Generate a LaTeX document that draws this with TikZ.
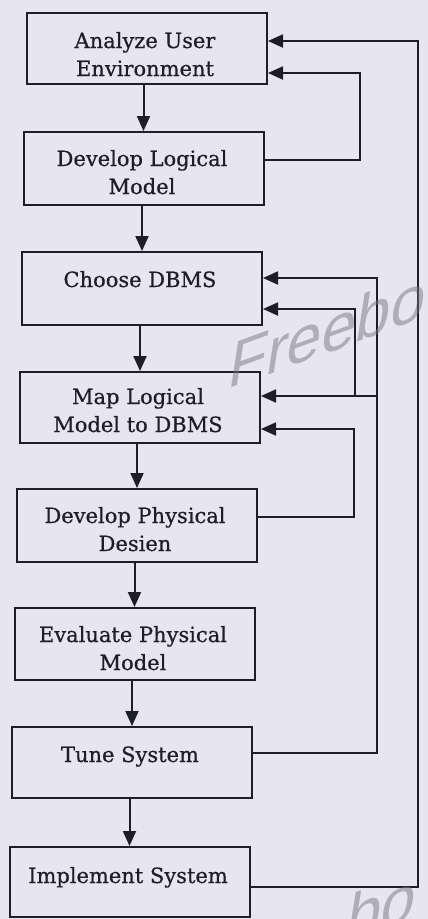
\documentclass[tikz,border=0pt]{standalone}
\usepackage{fontspec}
\setmainfont{DejaVu Serif}[FakeBold=0.6]
\newfontfamily\wmfont{Liberation Sans}
\usetikzlibrary{arrows.meta}
\definecolor{paper}{RGB}{231,229,240}
\definecolor{ink}{RGB}{30,30,42}
\definecolor{wmark}{RGB}{120,118,126}
\begin{document}
\begin{tikzpicture}[x=1pt,y=-1pt,
  stage/.style={draw=ink, line width=2pt, fill=paper, minimum width=240pt,
                minimum height=72pt, inner sep=0pt},
  caption/.style={anchor=base, align=center, text=ink, inner sep=0pt,
                  font={\fontsize{21}{28}\selectfont}},
  flow/.style={draw=ink, line width=2pt, -{Triangle[length=15pt,width=13pt]}},
  wm/.style={text=wmark, opacity=0.5, anchor=base west,
             rotate=20, xslant=0.55, yscale=0.9,
             inner sep=0pt, font={\wmfont\fontsize{66}{66}\selectfont}}]
\useasboundingbox[fill=paper] (0,0) rectangle (428,919);

% process stages
\node[stage, minimum height=71pt] (b1) at (147,48.5) {};
\node[stage, minimum height=73pt] (b2) at (143.5,168.5) {};
\node[stage, minimum height=73pt] (b3) at (142,288.5) {};
\node[stage, minimum height=71pt] (b4) at (140,407.5) {};
\node[stage, minimum height=73pt] (b5) at (137,525.5) {};
\node[stage, minimum height=72pt] (b6) at (134.5,644) {};
\node[stage, minimum height=71pt] (b7) at (132,762.5) {};
\node[stage, minimum height=70pt] (b8) at (129.5,882) {};

% stage captions (base anchor = baseline of the last line)
\node[caption] (t1) at (145,76) {Analyze User\\Environment};
\node[caption] (t2) at (142,194) {Develop Logical\\Model};
\node[caption] (t3) at (140,287) {Choose DBMS};
\node[caption] (t4) at (138,432) {Map Logical\\Model to DBMS};
\node[caption] (t5) at (135,551) {Develop Physical\\Desien};
\node[caption] (t6) at (133,670) {Evaluate Physical\\Model};
\node[caption] (t7) at (130,762) {Tune System};
\node[caption] (t8) at (128,883) {Implement System};

% main sequence
\draw[flow] (b2.north |- b1.south) -- (b2.north);
\draw[flow] (b3.north |- b2.south) -- (b3.north);
\draw[flow] (b4.north |- b3.south) -- (b4.north);
\draw[flow] (b5.north |- b4.south) -- (b5.north);
\draw[flow] (b6.north |- b5.south) -- (b6.north);
\draw[flow] (b7.north |- b6.south) -- (b7.north);
\draw[flow] (b8.north |- b7.south) -- (b8.north);

% feedback routes
\coordinate (kA) at (360,73);
\coordinate (kB) at (418,41);
\coordinate (kC) at (377,278);
\coordinate (kD) at (354,429);
\coordinate (j1) at (377,396);
\coordinate (j2) at (355,396);

\draw[flow] ([yshift=8.5pt]b2.east) -| (kA) -- ([yshift=-24.5pt]b1.east);
\draw[flow] ([yshift=-5pt]b8.east) -| (kB) -- ([yshift=7.5pt]b1.east);
\draw[flow] ([yshift=9.5pt]b7.east) -| (kC) -- ([yshift=10.5pt]b3.east);
\draw[flow] (j1) -- ([yshift=11.5pt]b4.east);
\draw[flow] (j2) |- ([yshift=-20.5pt]b3.east);
\draw[flow] ([yshift=8.5pt]b5.east) -| (kD) -- ([yshift=-21.5pt]b4.east);

% watermark
\begin{scope}
\clip (0,0) rectangle (428,919);
\node[wm] (w1) at (226,390) {Freebo};
\node[wm] (w2) at (344,943) {bo};
\end{scope}
\end{tikzpicture}
\end{document}
